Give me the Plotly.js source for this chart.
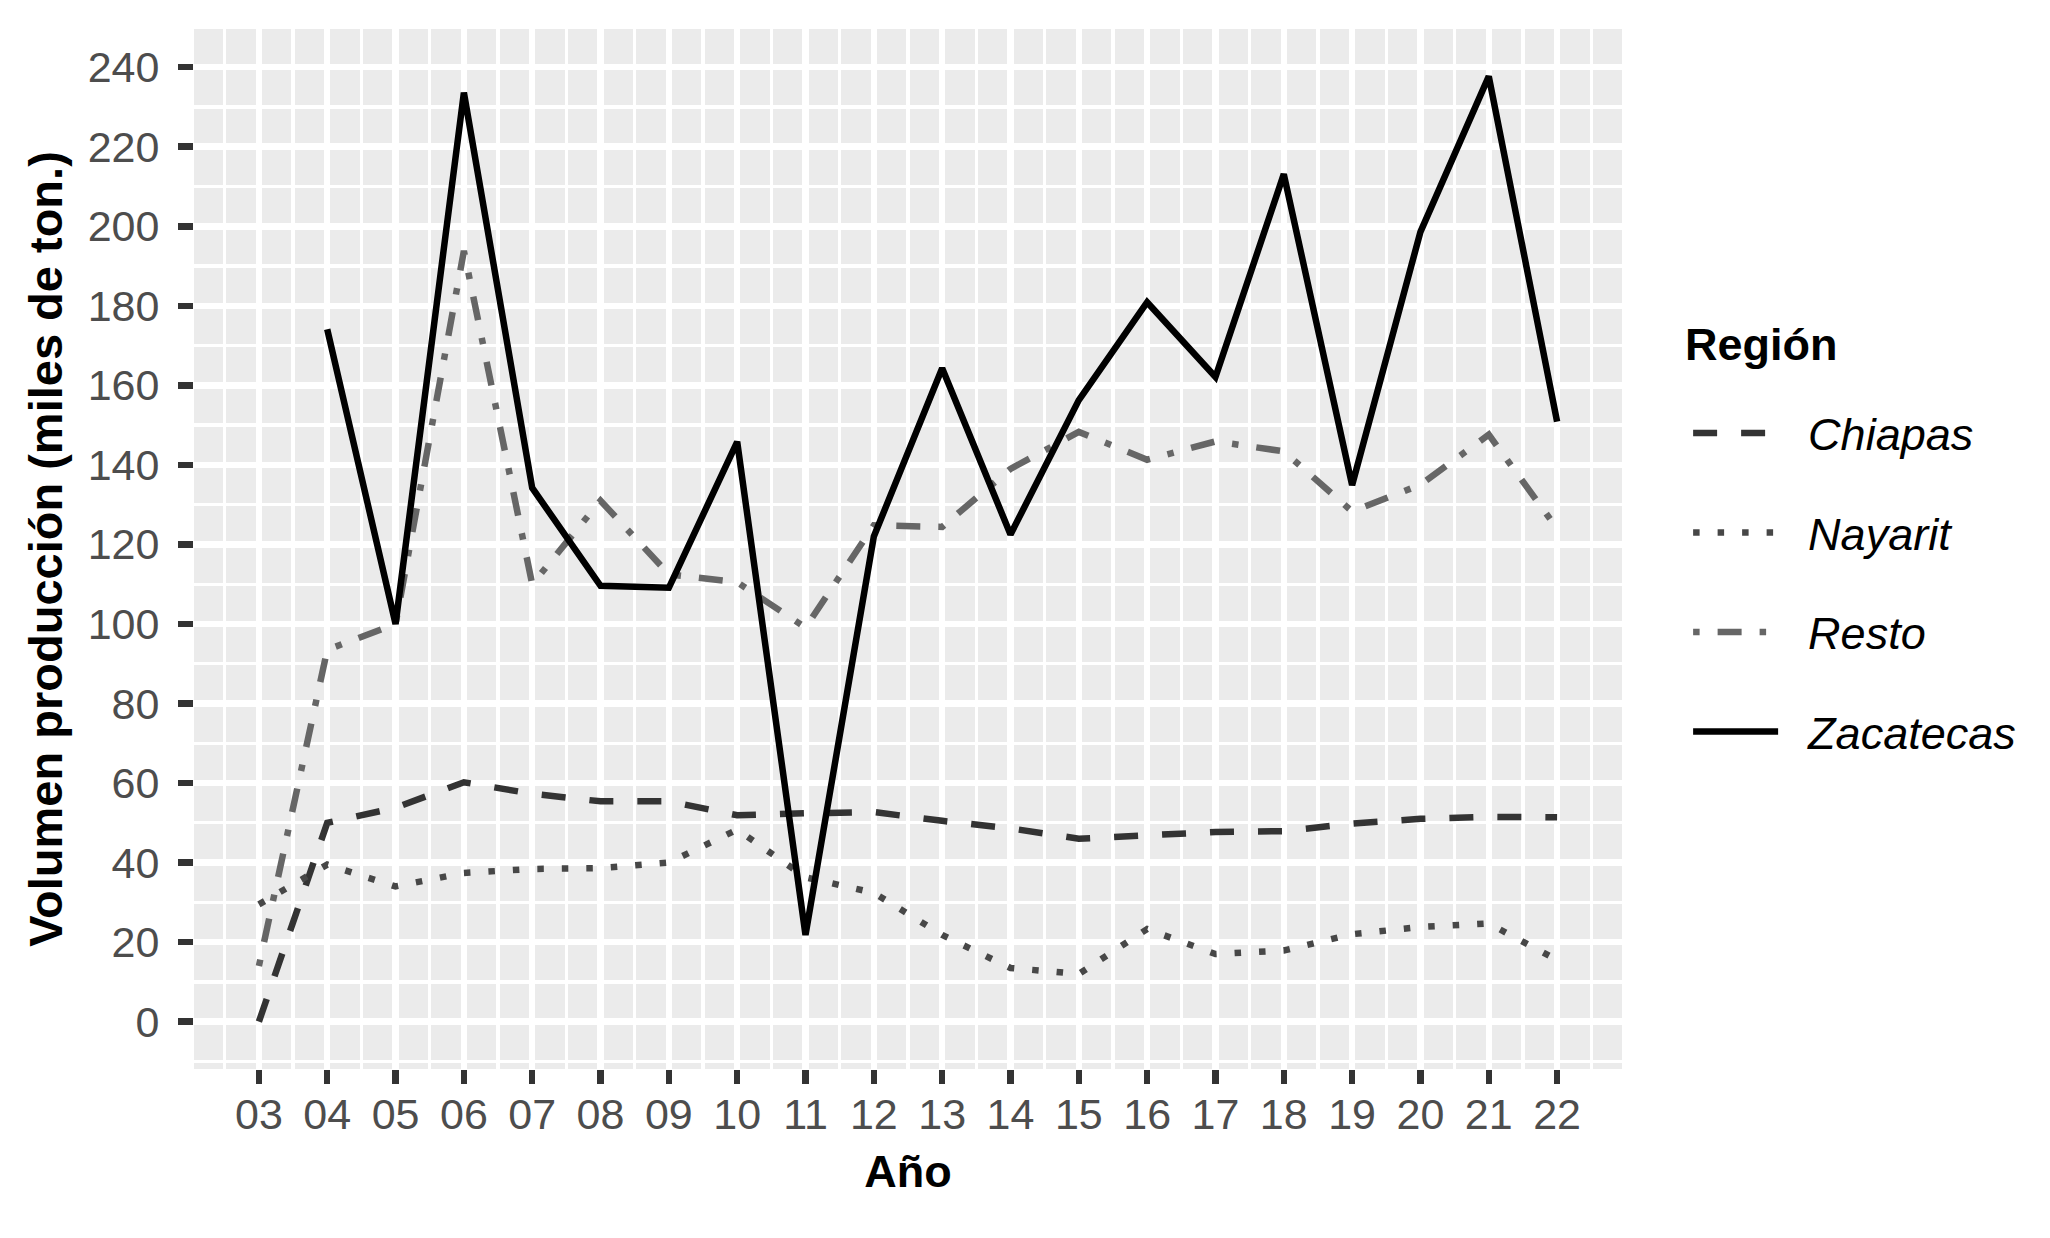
<!DOCTYPE html>
<html>
<head>
<meta charset="utf-8">
<script src="https://cdn.plot.ly/plotly-3.0.1.min.js"></script>
<style>html,body{margin:0;padding:0;background:#fff;}#chart{width:2050px;height:1238px;}</style>
</head>
<body>
<div id="chart"></div>
<script>
// Data (miles de toneladas)
const years = [2003,2004,2005,2006,2007,2008,2009,2010,2011,2012,2013,2014,2015,2016,2017,2018,2019,2020,2021,2022];
const yearLabels = ['03','04','05','06','07','08','09','10','11','12','13','14','15','16','17','18','19','20','21','22'];
const chiapas   = [0, 50, 53.8, 60.2, 57.3, 55.4, 55.4, 51.9, 52.4, 52.7, 50.5, 48.6, 46.0, 47.0, 47.7, 47.9, 49.8, 51.0, 51.5, 51.4];
const nayarit   = [29.5, 39.5, 34.0, 37.4, 38.4, 38.6, 40.0, 48.3, 36.3, 32.4, 21.8, 13.5, 12.0, 23.3, 17.0, 17.9, 22.0, 23.8, 24.7, 15.5];
const resto     = [14.0, 93.5, 100.0, 193.8, 110.0, 131.0, 112.5, 110.5, 99.1, 124.8, 124.4, 139.0, 148.3, 141.3, 145.9, 143.4, 128.3, 135.0, 147.6, 124.0];
const zacatecas = [null, 174.1, 100.0, 233.6, 134.2, 109.6, 109.1, 145.8, 21.8, 122.0, 164.3, 122.5, 156.3, 180.9, 162.1, 213.1, 134.9, 198.6, 237.7, 150.9];
const yTicks = [0,20,40,60,80,100,120,140,160,180,200,220,240];
const regionNames = ['Chiapas', 'Nayarit', 'Resto', 'Zacatecas'];

const FONT = '"Liberation Sans", Arial, Helvetica, sans-serif';
const LW = 6.5;
const PAD = '\u00A0\u00A0';

const series = [
  {name: regionNames[0], y: chiapas,   color: '#333333', dash: '24px,24px'},
  {name: regionNames[1], y: nayarit,   color: '#474747', dash: '6.5px,18px'},
  {name: regionNames[2], y: resto,     color: '#666666', dash: '6.5px,18px,24px,18px'},
  {name: regionNames[3], y: zacatecas, color: '#000000', dash: 'solid'}
];

const traces = series.map(s => ({
  type: 'scatter', mode: 'lines', name: PAD + s.name, legendgroup: s.name,
  x: years, y: s.y, connectgaps: false,
  line: {color: s.color, width: LW, dash: s.dash},
  hoverinfo: 'x+y+name'
}));

const layout = {
  width: 2050, height: 1238,
  margin: {l: 194, r: 428, t: 29, b: 169, pad: 0},
  paper_bgcolor: '#ffffff',
  plot_bgcolor: '#ebebeb',
  font: {family: FONT, color: '#000000'},
  xaxis: {
    range: [2002.05, 2022.95],
    tickmode: 'array', tickvals: years, ticktext: yearLabels,
    ticks: 'outside', ticklen: 14, tickwidth: 6.5, tickcolor: '#333333',
    ticklabelstandoff: -7,
    tickfont: {family: FONT, size: 43, color: '#4d4d4d'},
    showgrid: true, gridcolor: '#ffffff', gridwidth: 6.5,
    minor: {tick0: 2002.5, dtick: 1, showgrid: true, gridcolor: '#ffffff', gridwidth: 3.3, ticks: ''},
    zeroline: false, showline: false,
    title: {text: 'Año', font: {family: FONT, size: 45, color: '#000000', weight: 'bold'}, standoff: 18}
  },
  yaxis: {
    range: [-11.9, 249.6],
    tickmode: 'array', tickvals: yTicks,
    ticks: 'outside', ticklen: 15, tickwidth: 6.5, tickcolor: '#333333',
    ticklabelstandoff: 10,
    tickfont: {family: FONT, size: 43, color: '#4d4d4d'},
    showgrid: true, gridcolor: '#ffffff', gridwidth: 6.5,
    minor: {tick0: -10, dtick: 20, showgrid: true, gridcolor: '#ffffff', gridwidth: 3.3, ticks: ''},
    zeroline: false, showline: false,
    title: {text: 'Volumen producción (miles de ton.)', font: {family: FONT, size: 47, color: '#000000', weight: 'bold'}, standoff: 10}
  },
  showlegend: true,
  legend: {
    x: 1.0463, xanchor: 'left', y: 0.646, yanchor: 'top',
    bgcolor: 'rgba(0,0,0,0)', borderwidth: 0,
    itemwidth: 85,
    tracegroupgap: 38,
    font: {family: FONT, size: 45, color: '#000000', style: 'italic'},
    itemclick: false, itemdoubleclick: false
  },
  annotations: [{
    xref: 'paper', yref: 'paper', x: 1.0427, y: 0.697, xanchor: 'left', yanchor: 'middle',
    text: 'Región', showarrow: false,
    font: {family: FONT, size: 45, color: '#000000', weight: 'bold'}
  }]
};

Plotly.newPlot('chart', traces, layout, {staticPlot: true, displayModeBar: false});
</script>
</body>
</html>
